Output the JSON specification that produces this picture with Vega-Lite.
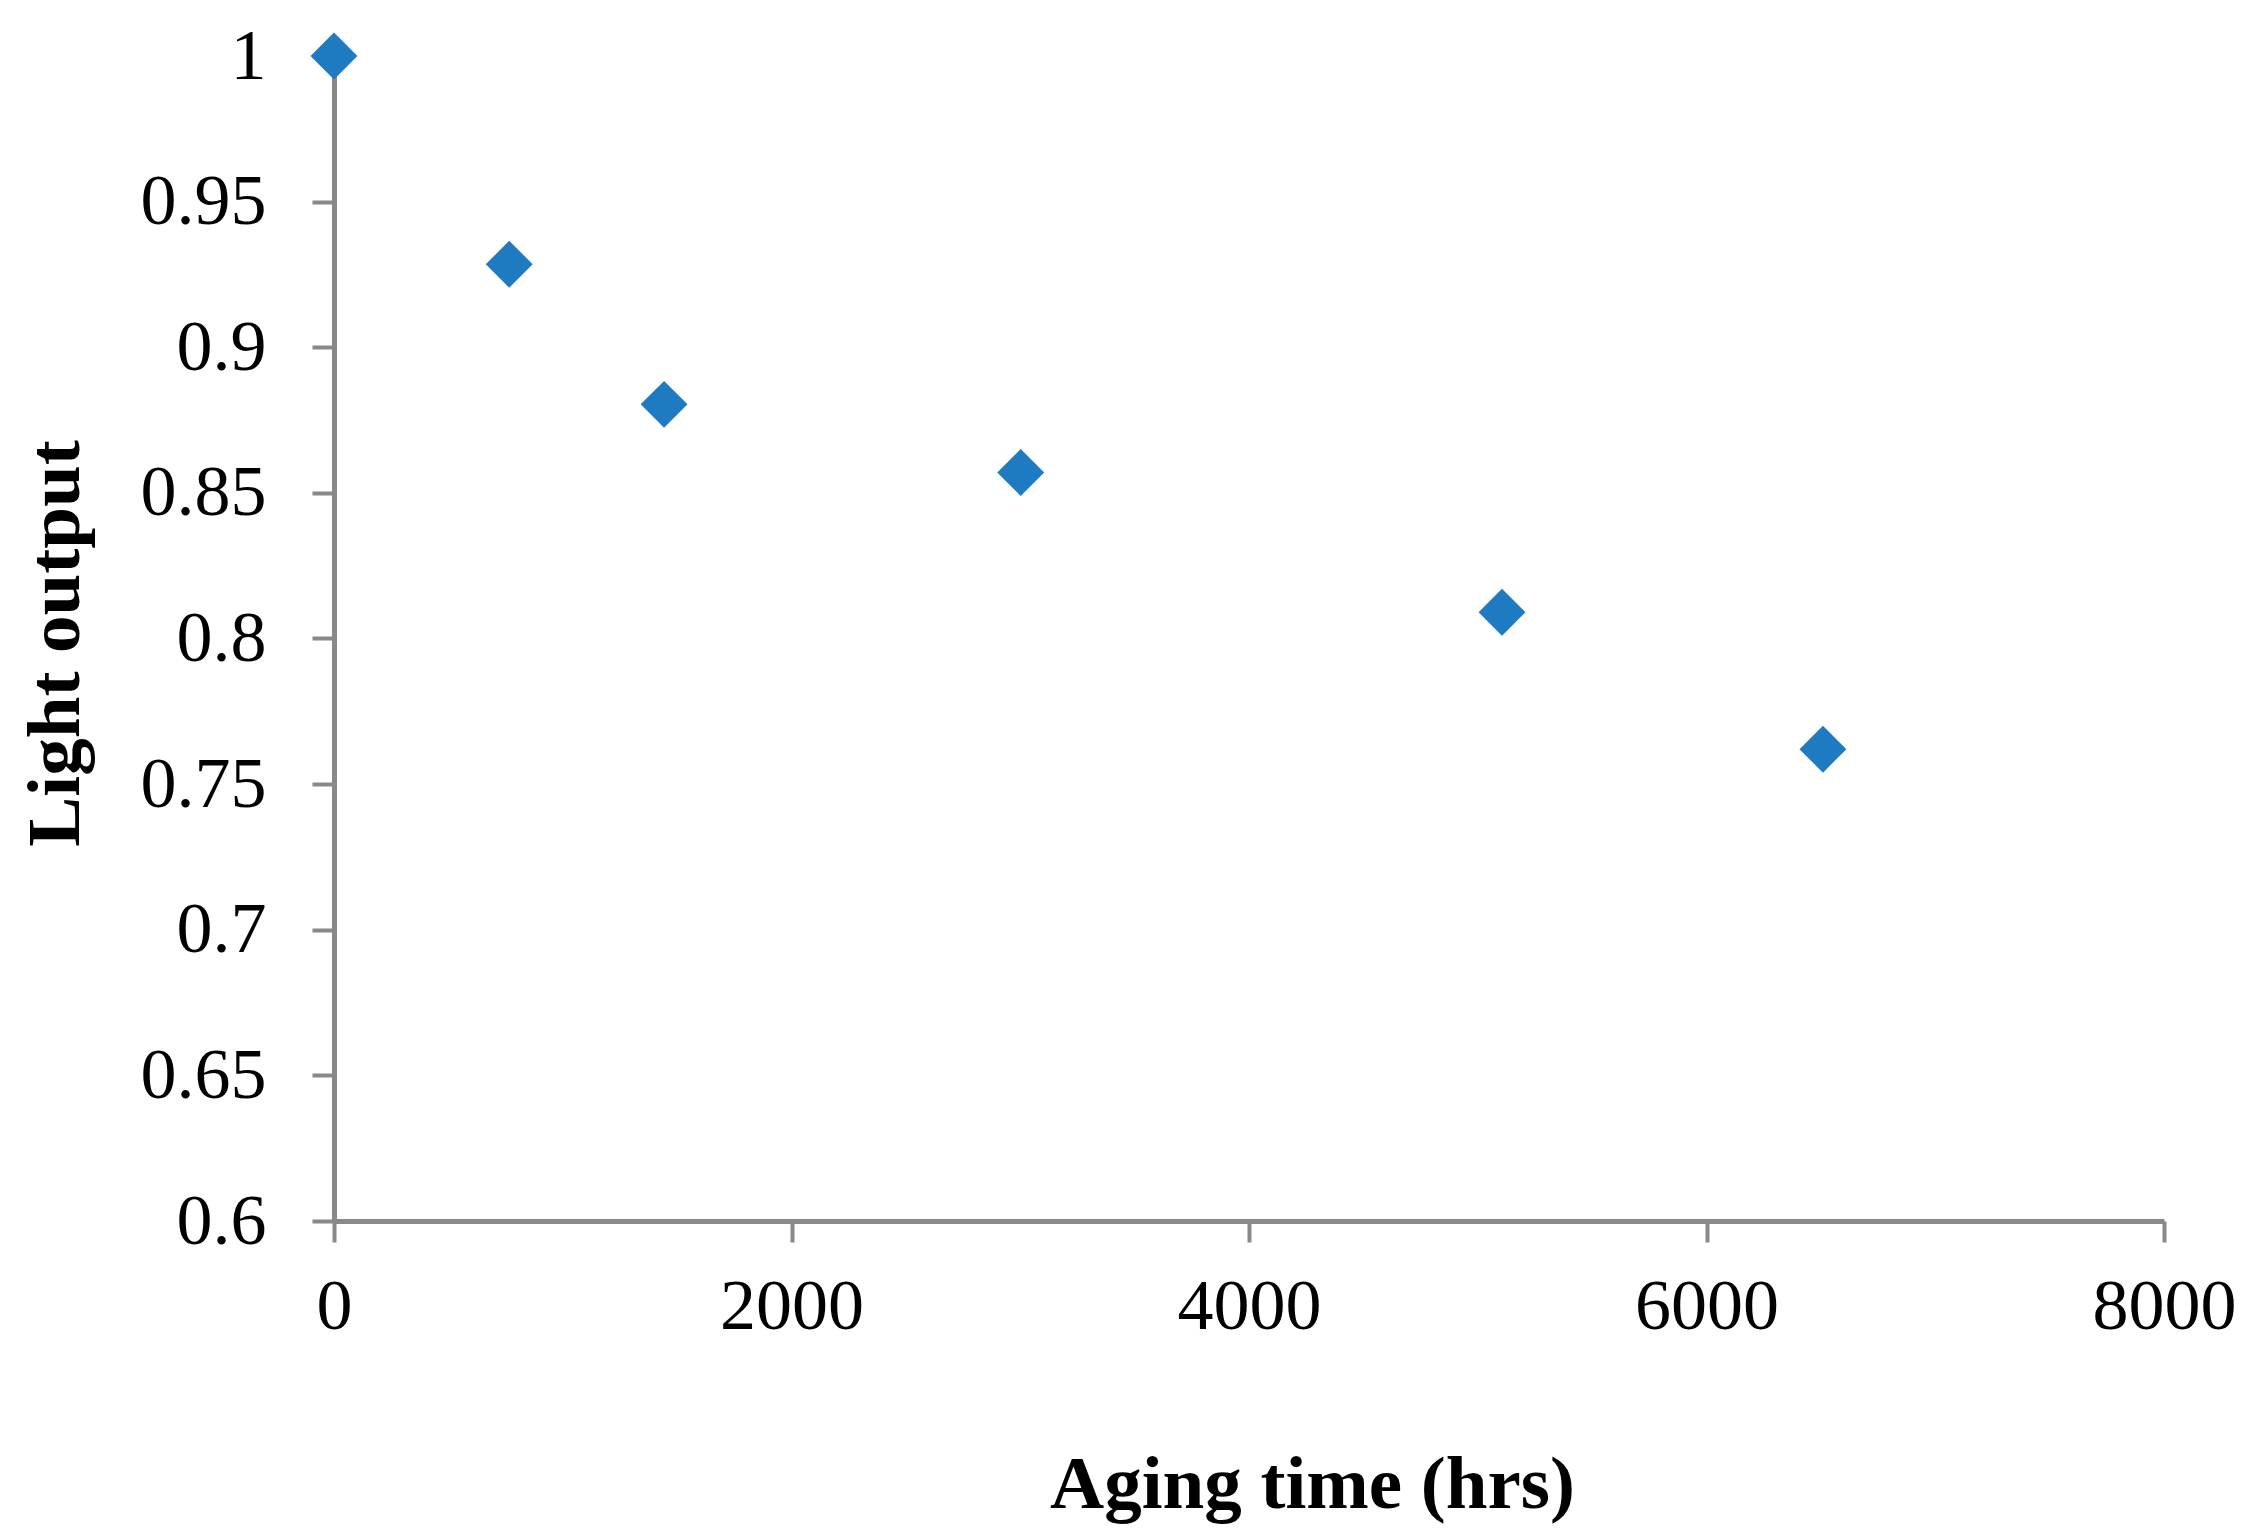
{
  "$schema": "https://vega.github.io/schema/vega-lite/v6.json",
  "autosize": {"type": "none"},
  "padding": {"left": 334, "top": 56, "right": 100, "bottom": 318},
  "width": 1830,
  "height": 1165,
  "background": "white",
  "config": {"view": {"stroke": null}},
  "data": {"values": [
    {"hrs": 0, "light": 1.0},
    {"hrs": 766, "light": 0.9285},
    {"hrs": 1443, "light": 0.8804},
    {"hrs": 3002, "light": 0.857},
    {"hrs": 5106, "light": 0.809},
    {"hrs": 6509, "light": 0.762}
  ]},
  "mark": {"type": "point", "shape": "diamond", "filled": true, "size": 2200, "color": "#1f7bc1", "opacity": 1},
  "encoding": {
    "x": {
      "field": "hrs", "type": "quantitative",
      "scale": {"domain": [0, 8000], "nice": false, "zero": false},
      "axis": {
        "title": "Aging time (hrs)",
        "values": [0, 2000, 4000, 6000, 8000],
        "format": "d",
        "grid": false,
        "domainColor": "#898989", "domainWidth": 5,
        "tickColor": "#898989", "tickWidth": 4, "tickSize": 21,
        "labelFont": "Liberation Serif", "labelFontSize": 72, "labelColor": "black",
        "labelBaseline": "alphabetic", "labelPadding": 86, "labelFlush": false,
        "titleFont": "Liberation Serif", "titleFontSize": 75, "titleFontWeight": "bold", "titleColor": "black",
        "titleX": 978, "titleY": 286, "titleAlign": "center", "titleBaseline": "alphabetic"
      }
    },
    "y": {
      "field": "light", "type": "quantitative",
      "scale": {"domain": [0.6, 1], "nice": false, "zero": false},
      "axis": {
        "title": "Light output",
        "values": [0.6, 0.65, 0.7, 0.75, 0.8, 0.85, 0.9, 0.95, 1],
        "format": ".2~f",
        "grid": false,
        "domainColor": "#898989", "domainWidth": 5,
        "tickColor": "#898989", "tickWidth": 4, "tickSize": 22,
        "labelFont": "Liberation Serif", "labelFontSize": 72, "labelColor": "black",
        "labelPadding": 46, "labelFlush": false, "labelBaseline": "middle",
        "titleFont": "Liberation Serif", "titleFontSize": 75, "titleFontWeight": "bold", "titleColor": "black",
        "titleAngle": -90, "titleX": -256, "titleY": 587, "titleAlign": "center", "titleBaseline": "alphabetic"
      }
    }
  }
}
